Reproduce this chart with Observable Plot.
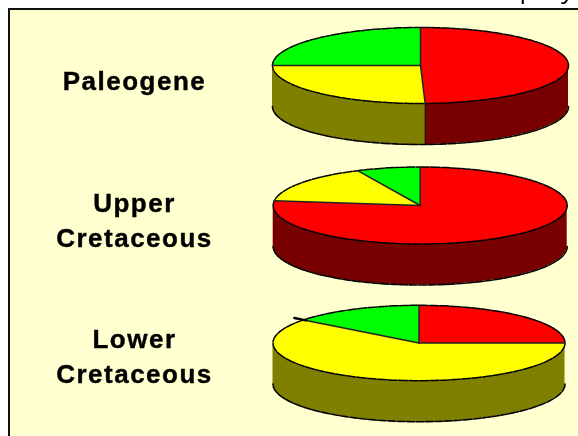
<!DOCTYPE html>
<html>
<head>
<meta charset="utf-8">
<script src="https://cdn.jsdelivr.net/npm/d3@7"></script>
<script src="https://cdn.jsdelivr.net/npm/@observablehq/plot@0.6"></script>
<style>html,body{margin:0;padding:0;background:#fff}svg{display:block;filter:blur(0.35px)}</style>
</head>
<body>
<div id="chart"></div>
<script>
const pieNames = ["Paleogene", "Upper\nCretaceous", "Lower\nCretaceous"];
const sliceNames = ["slice A", "slice B", "slice C"];
const shareA = [49.5, 77, 25];
const shareB = [25.5, 16, 60.5];
const shareC = [25, 7, 14.5];

const W = 578, H = 436;
const centreX = [420, 419.7, 418.5];
const centreY = [65, 205, 342.5];
const radiusX = [148, 147, 146];
const radiusY = [38, 38.5, 37.7];
const depth = [41, 41, 41];
const labelY = [78, 217.5, 354];
const colorDomain = ["slice A", "slice B", "slice C", "slice A side", "slice B side", "slice C side"];
const colorRange = ["#ff0000", "#ffff00", "#00ff00", "#780000", "#808000", "#008000"];

const wedges = [], sides = [], radii = [], walls = [], rims = [], bottoms = [];
const pt = (i, deg, k = 1) => {
  const t = deg * Math.PI / 180;
  return {x: centreX[i] + k * radiusX[i] * Math.sin(t), y: centreY[i] - k * radiusY[i] * Math.cos(t)};
};
pieNames.forEach((_, i) => {
  const shares = [shareA[i], shareB[i], shareC[i]];
  let start = 0;
  shares.forEach((s, j) => {
    const end = start + s * 3.6;
    const id = i + "-" + j;
    const c = pt(i, 0, 0);
    wedges.push({...c, id, cat: sliceNames[j]});
    for (let a = start; ; a = Math.min(a + 2, end)) {
      wedges.push({...pt(i, a), id, cat: sliceNames[j]});
      if (a >= end) break;
    }
    radii.push({...c, id}, {...pt(i, start), id});
    const from = Math.max(start, 90), to = Math.min(end, 270);
    if (from < to) {
      for (let a = from; ; a = Math.min(a + 2, to)) {
        const p = pt(i, a);
        sides.push({x: p.x, y: p.y, y2: p.y + depth[i], id, cat: sliceNames[j] + " side"});
        if (a >= to) break;
      }
    }
    if (start > 90 && start < 270) {
      const p = pt(i, start);
      walls.push({x: p.x, y1: p.y, y2: p.y + depth[i]});
    }
    start = end;
  });
  for (let a = 0; a <= 360; a += 2) rims.push({...pt(i, a), id: i});
  for (let a = 90; a <= 270; a += 2) {
    const p = pt(i, a);
    bottoms.push({x: p.x, y: p.y + depth[i], id: i});
  }
});

const stubAngle = 360 - shareC[2] * 3.6;
const chart = Plot.plot({
  width: W, height: H,
  margin: 0,
  x: {domain: [0, W], range: [0, W], axis: null},
  y: {domain: [0, H], range: [0, H], axis: null},
  color: {type: "ordinal", domain: colorDomain, range: colorRange},
  style: {background: "#fff", letterSpacing: "1.5px"},
  marks: [
    Plot.text(["display"], {x: [575], y: [-11], textAnchor: "end", fontFamily: "Open Sans", fontSize: 26, fill: "#000"}),
    Plot.rect([0], {x1: [9], x2: [W + 5], y1: [9], y2: [H + 5], fill: "#ffffd0", stroke: "#111", strokeWidth: 2}),
    Plot.area(sides, {x1: "x", y1: "y", y2: "y2", z: "id", fill: "cat", curve: "linear"}),
    Plot.line(bottoms, {x: "x", y: "y", z: "id", stroke: "#000", strokeWidth: 1.6, strokeDasharray: "8 1.5"}),
    Plot.ruleX(walls, {x: "x", y1: "y1", y2: "y2", stroke: "#111", strokeWidth: 1.2}),
    Plot.line(wedges, {x: "x", y: "y", z: "id", fill: "cat", stroke: "none"}),
    Plot.line(rims, {x: "x", y: "y", z: "id", stroke: "#000", strokeWidth: 1.5, strokeDasharray: "9 1.5"}),
    Plot.line(radii, {x: "x", y: "y", z: "id", stroke: "#222", strokeWidth: 1.5}),
    Plot.line([pt(2, stubAngle, 0.98), pt(2, stubAngle, 1.08)], {x: "x", y: "y", stroke: "#000", strokeWidth: 2.5}),
    Plot.text(pieNames, {x: () => 134, y: (d, i) => labelY[i], fontFamily: "Liberation Sans", fontWeight: "bold", fontSize: 26, lineHeight: 1.35, fill: "#000", stroke: "#000", strokeWidth: 0.4})
  ]
});
document.getElementById("chart").appendChild(chart);
</script>
</body>
</html>
